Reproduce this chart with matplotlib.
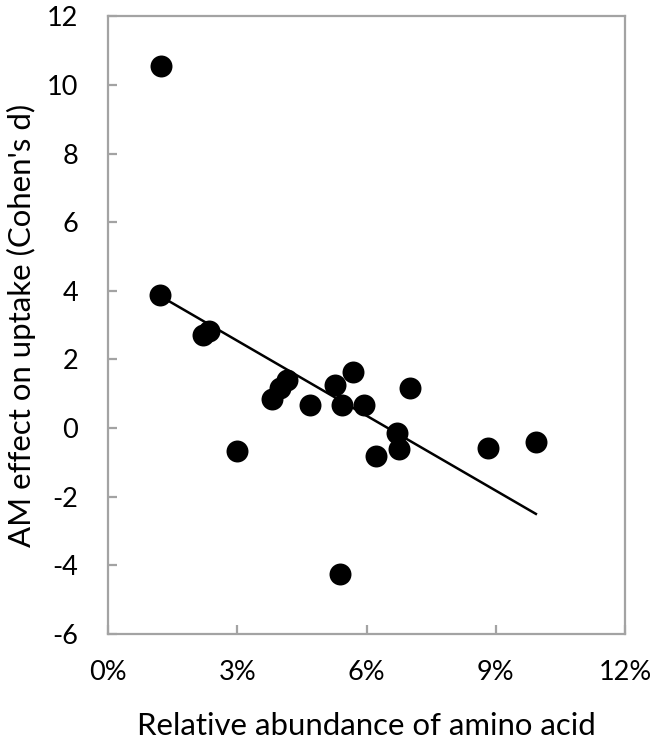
import matplotlib.pyplot as plt
from matplotlib.ticker import FuncFormatter

# relative abundance (%) vs AM effect (Cohen's d)
abundance = [1.23, 1.21, 2.20, 2.35, 2.99, 3.80, 3.99, 4.16, 4.69, 5.27,
             5.42, 5.68, 5.94, 5.39, 6.22, 7.02, 6.71, 6.76, 8.83, 9.93]
effect = [10.55, 3.89, 2.71, 2.83, -0.66, 0.84, 1.18, 1.40, 0.66, 1.27,
          0.66, 1.64, 0.66, -4.25, -0.81, 1.16, -0.14, -0.61, -0.57, -0.40]

trend_x = [1.21, 9.93]
trend_y = [3.85, -2.50]

x_ticks = [0, 3, 6, 9, 12]
y_ticks = [-6, -4, -2, 0, 2, 4, 6, 8, 10, 12]

plt.rcParams['font.family'] = ['Lato', 'DejaVu Sans']
plt.rcParams['axes.unicode_minus'] = False

fig = plt.figure(figsize=(6.58, 7.41), dpi=100)
ax = fig.add_axes([0.164, 0.1444, 0.786, 0.8336])

ax.scatter(abundance, effect, s=250, color='black', linewidths=0, zorder=3)
ax.plot(trend_x, trend_y, color='black', lw=1.8, zorder=2)

ax.set_xlim(0, 12)
ax.set_ylim(-6, 12)
ax.set_xticks(x_ticks)
ax.set_yticks(y_ticks)
ax.xaxis.set_major_formatter(FuncFormatter(lambda v, p: f"{v:.0f}%"))

for s in ax.spines.values():
    s.set_color('#a3a3a3')
    s.set_linewidth(1.6)
ax.tick_params(axis='both', direction='in', length=6.5, width=1.6,
               color='#a3a3a3', labelsize=19.5, labelcolor='black')
ax.tick_params(axis='y', pad=21.5)
ax.tick_params(axis='x', pad=19)

ax.set_xlabel('Relative abundance of amino acid', fontsize=22.4, labelpad=19)
ax.set_ylabel("AM effect on uptake (Cohen's d)", fontsize=22.4, labelpad=8)

fig.savefig('out.png', dpi=100)
